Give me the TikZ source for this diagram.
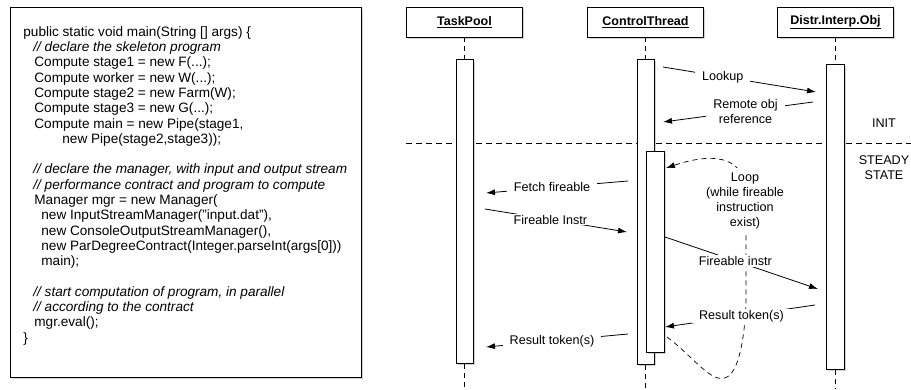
\documentclass[tikz,border=0pt]{standalone}
\usepackage{fontspec}
\setmainfont{Liberation Sans}
\usepackage{tikz}
\usetikzlibrary{arrows.meta,shadows}
\def\hdr#1{\underline{\textbf{#1}}}

\begin{document}
\begin{tikzpicture}[x=1pt, y=-1pt, line width=0.8pt,
  shadowed/.style={drop shadow={shadow xshift=1.5pt, shadow yshift=-2pt, opacity=0.35}},
  head/.style={draw, fill=white, shadowed, minimum width=116pt, minimum height=30pt, inner sep=0pt, font=\fontsize{12.5}{14}\selectfont},
  bar/.style={draw, fill=white, shadowed, inner sep=0pt, anchor=north},
  life/.style={dash pattern=on 5pt off 4pt, line width=0.7pt},
  msg/.style={-{Latex[length=9pt,width=6pt]}},
  lbl/.style={fill=white, inner xsep=7pt, inner ysep=1pt, align=center, font=\fontsize{12.6}{15}\selectfont}]
 \useasboundingbox (0,0) rectangle (911,389);
 \coordinate (btm) at (0,389);

 \node[draw, fill=white, shadowed, minimum width=351pt, minimum height=370pt, anchor=north west, inner sep=0pt] (codeBox) at (10,7) {};
 \node[anchor=north west, align=left, inner sep=0pt, font=\fontsize{13.6}{15.3}\selectfont] (code) at (23,26) {%
public static void main(String [] args) \{\\
\hspace*{10pt}\textit{// declare the skeleton program}\\
\hspace*{11pt}Compute stage1 = new F(...);\\
\hspace*{11pt}Compute worker = new W(...);\\
\hspace*{11pt}Compute stage2 = new Farm(W);\\
\hspace*{11pt}Compute stage3 = new G(...);\\
\hspace*{11pt}Compute main = new Pipe(stage1,\\
\hspace*{39pt}new Pipe(stage2,stage3));\\[15.3pt]
\hspace*{10pt}\textit{// declare the manager, with input and output stream}\\
\hspace*{10pt}\textit{// performance contract and program to compute}\\
\hspace*{11pt}Manager mgr = new Manager(\\
\hspace*{18pt}new InputStreamManager("input.dat"),\\
\hspace*{18pt}new ConsoleOutputStreamManager(),\\
\hspace*{18pt}new ParDegreeContract(Integer.parseInt(args[0]))\\
\hspace*{18pt}main);\\[15.3pt]
\hspace*{10pt}\textit{// start computation of program, in parallel}\\
\hspace*{10pt}\textit{// according to the contract}\\
\hspace*{11pt}mgr.eval();\\
\}};

 \coordinate (divL) at (406,143);
 \coordinate (divR) at (911,143);
 \draw[dash pattern=on 6pt off 4pt, line width=0.7pt] (divL) -- (divR);

 \node[head] (tp) at (464.5,22) {\hdr{TaskPool}};
 \node[head] (ct) at (645.5,22) {\hdr{ControlThread}};
 \node[head] (dio) at (835.5,22) {\hdr{Distr.Interp.Obj}};

 \node[bar, minimum width=17pt, minimum height=304pt] (tpBar) at (464.5,59) {};
 \node[bar, minimum width=17pt, minimum height=305pt] (ctBar) at (645.5,59) {};
 \node[bar, minimum width=18pt, minimum height=201pt] (ctLoop) at (655,151) {};
 \node[bar, minimum width=18pt, minimum height=305pt] (dioBar) at (835.5,64) {};

 \draw[life] (tp.south) -- (tpBar.north);
 \draw[life] (ct.south) -- (ctBar.north);
 \draw[life] (dio.south) -- (dioBar.north);
 \draw[life] (tpBar.south) -- (tpBar.south |- btm);
 \draw[life] (ctBar.south) -- (ctBar.south |- btm);
 \draw[life] (dioBar.south) -- (dioBar.south |- btm);

 \node[font=\fontsize{12.6}{15}\selectfont] (init) at (884,123) {INIT};
 \node[align=center, font=\fontsize{12.6}{15}\selectfont] (steady) at (884,167.5) {STEADY\\STATE};

 \coordinate (lpStart) at (667,337);
 \coordinate (lpEnd) at (666,168);
 \draw[life, msg] (lpStart) .. controls (695,358) and (712,385) .. (727,377) .. controls (738,372) and (745,340) .. (746,300) -- (746,195) .. controls (746,160) and (720,150) .. (lpEnd);
 \node[lbl, inner ysep=4pt] (loopLbl) at (745,200.5) {Loop\\(while fireable\\instruction\\exist)};

 \coordinate (lk1) at (663,67);
 \coordinate (lk2) at (816,92);
 \draw[msg] (lk1) -- node[lbl, pos=0.39] {Lookup} (lk2);
 \coordinate (rm1) at (813,102);
 \coordinate (rm2) at (663,122);
 \draw[msg] (rm1) -- node[lbl, pos=0.45] {Remote obj\\reference} (rm2);
 \coordinate (ff1) at (628,181);
 \coordinate (ff2) at (486,193);
 \draw[msg] (ff1) -- node[lbl, pos=0.535] {Fetch fireable} (ff2);
 \coordinate (fi1) at (485,209);
 \coordinate (fi2) at (627,232);
 \draw[msg] (fi1) -- node[lbl, pos=0.46] {Fireable Instr} (fi2);
 \coordinate (fr1) at (665,237);
 \coordinate (fr2) at (818,289);
 \draw[msg] (fr1) -- node[lbl, pos=0.46] {Fireable instr} (fr2);
 \coordinate (rt1) at (815,305);
 \coordinate (rt2) at (665,327);
 \draw[msg] (rt1) -- node[lbl, pos=0.49] {Result token(s)} (rt2);
 \coordinate (rs1) at (628,334);
 \coordinate (rs2) at (486,347);
 \draw[msg] (rs1) -- node[lbl, pos=0.535] {Result token(s)} (rs2);
\end{tikzpicture}
\end{document}
